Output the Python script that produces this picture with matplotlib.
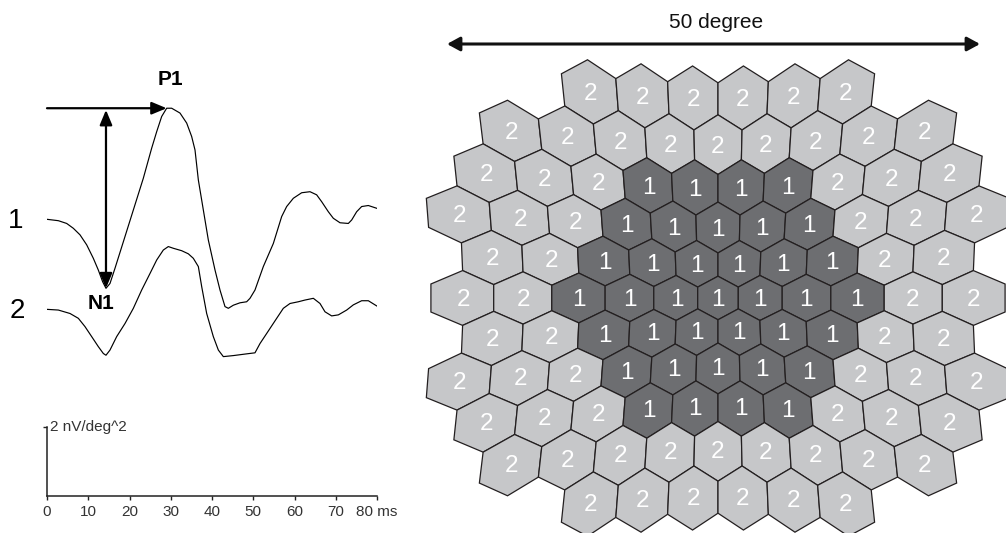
import numpy as np
import matplotlib
matplotlib.use("Agg")
import matplotlib.pyplot as plt
from matplotlib.patches import Polygon

plt.rcParams['font.family'] = ['Liberation Sans', 'DejaVu Sans']

# ---------------- data: mfERG traces (time in ms, amplitude in nV/deg^2 rel. to start) ----
t1 = [0, 2.75, 4.77, 6.38, 8.0, 9.62, 11.23, 12.44, 13.49, 14.3, 15.27, 16.48, 18.51,
      20.93, 23.35, 25.37, 26.59, 27.8, 29.01, 30.22, 32.24, 33.86, 35.07, 35.88, 36.69,
      37.9, 39.11, 40.73, 41.94, 43.15, 43.96, 45.17, 46.79, 48.4, 49.21, 50.42, 52.44,
      54.87, 56.89, 58.1, 59.72, 61.74, 63.76, 65.37, 66.59, 68.2, 69.41, 71.03, 73.05,
      73.86, 75.07, 76.28, 77.9, 79.92]
a1 = [0, -0.04, -0.12, -0.26, -0.45, -0.74, -1.13, -1.47, -1.81, -2.00, -1.86, -1.42, -0.65,
      0.27, 1.19, 2.06, 2.54, 2.98, 3.22, 3.22, 3.08, 2.79, 2.40, 2.01, 1.14,
      0.27, -0.60, -1.47, -2.05, -2.53, -2.58, -2.49, -2.42, -2.39, -2.29, -2.05, -1.37,
      -0.70, 0.08, 0.37, 0.61, 0.77, 0.80, 0.71, 0.51, 0.22, 0.03, -0.10, -0.12,
      -0.02, 0.22, 0.37, 0.40, 0.32]
t2 = [0, 2.75, 5.58, 7.6, 9.21, 10.83, 12.44, 13.66, 14.3, 15.27, 16.89, 18.91, 20.93,
      22.95, 24.97, 26.59, 28.2, 29.41, 30.63, 32.65, 34.26, 35.47, 36.69, 37.5, 38.71,
      40.32, 41.54, 42.75, 45.17, 48.4, 50.42, 51.64, 53.25, 55.68, 57.29, 58.91, 60.93,
      62.55, 64.57, 66.18, 67.39, 69.01, 70.63, 72.65, 74.26, 76.28, 77.9, 79.92]
a2 = [0, -0.02, -0.12, -0.26, -0.50, -0.79, -1.08, -1.28, -1.33, -1.18, -0.79, -0.41, 0.03,
      0.56, 1.04, 1.43, 1.72, 1.82, 1.77, 1.70, 1.61, 1.48, 1.24, 0.66, -0.12,
      -0.79, -1.18, -1.37, -1.34, -1.29, -1.26, -0.99, -0.70, -0.26, 0.03, 0.17, 0.22,
      0.27, 0.32, 0.17, -0.07, -0.19, -0.16, -0.02, 0.13, 0.25, 0.25, 0.10]
trace_names = ["1", "2"]
time_ticks = [0, 10, 20, 30, 40, 50, 60, 70, 80]
time_tick_labels = ["0", "10", "20", "30", "40", "50", "60", "70", "80 ms"]
scale_bar = 2  # nV/deg^2
scale_label = "2 nV/deg^2"

# ---------------- data: hexagon stimulus array ----------------
full_rings = 5                 # rings 0..5 complete
extra_ring = 6                 # partial outer ring
extra_rows = [2, 3, 4]         # |row| of the partial-ring cells
region_of_ring = [1, 1, 1, 1, 2, 2, 2]
array_title = "50 degree"

# ---------------- figure ----------------
W, H = 1006, 533
fig = plt.figure(figsize=(W / 100, H / 100), dpi=100)

# ---- left panel ----
px_per_unit = 34.5
axL = fig.add_axes([47 / W, 37 / H, 330 / W, 436 / H])
axL.set_xlim(0, 80)
axL.set_ylim(0, 436 / px_per_unit)
off1, off2 = 8.02, 5.41
y1 = np.array(a1) + off1
y2 = np.array(a2) + off2
axL.plot(t1, y1, color='black', lw=0.85)
axL.plot(t2, y2, color='black', lw=0.85)

for s in ['top', 'right']:
    axL.spines[s].set_visible(False)
axL.spines['left'].set_bounds(0, scale_bar)
axL.spines['bottom'].set_bounds(0, 80)
for s in ['left', 'bottom']:
    axL.spines[s].set_linewidth(1.1)
    axL.spines[s].set_color('#222222')
axL.set_xticks(time_ticks)
axL.set_xticklabels(time_tick_labels)
axL.set_yticks([scale_bar])
axL.set_yticklabels([])
axL.tick_params(axis='both', direction='out', length=3, width=1, color='#222222',
                labelsize=11, labelcolor='#333333', pad=3.5)
axL.text(0.7, scale_bar, scale_label, fontsize=11, color='#333333', va='center', ha='left')

# P1 / N1 from trace 1
i_p1 = int(np.argmax(y1))
i_n1 = int(np.argmin(np.where(np.array(t1) < 20, y1, np.inf)))
tp, vp = t1[i_p1], y1[i_p1]
tn, vn = t1[i_n1], y1[i_n1]
axL.annotate("", xy=(tp, vp), xytext=(0, vp),
             arrowprops=dict(arrowstyle='-|>,head_length=0.6,head_width=0.25',
                             mutation_scale=15, lw=1.6, color='black',
                             shrinkA=0, shrinkB=0), annotation_clip=False)
axL.annotate("", xy=(tn, vn), xytext=(tn, vp - 0.05),
             arrowprops=dict(arrowstyle='<|-|>,head_length=0.6,head_width=0.25',
                             mutation_scale=15, lw=1.6, color='black',
                             shrinkA=0, shrinkB=0), annotation_clip=False)
axL.text(tp + 1.0, vp + 0.82, "P1", fontsize=15, fontweight='bold', ha='center', va='center')
axL.text(tn - 1.2, vn - 0.45, "N1", fontsize=15, fontweight='bold', ha='center', va='center')
axL.text(-7.6, off1 - 0.05, trace_names[0], fontsize=20, ha='center', va='center', clip_on=False)
axL.text(-7.2, off2 - 0.05, trace_names[1], fontsize=20, ha='center', va='center', clip_on=False)

# ---- right panel: hexagon array ----
axR = fig.add_axes([420 / W, 0, 586 / W, 1])
axR.set_xlim(420, 1006)
axR.set_ylim(533, 0)
axR.axis('off')

cx, cy = 718.0, 298.0
wa, wb, sy = 39.2, 2.36, 0.93


def warp(x, y):
    d = np.hypot(x, y)
    if d == 0:
        return cx, cy
    f = wa * d + wb * d * d
    return cx + x / d * f, cy - y / d * f * sy


cells = []
for r in range(-extra_ring, extra_ring + 1):
    for q in range(-extra_ring, extra_ring + 1):
        ring = max(abs(q), abs(r), abs(q + r))
        if ring <= full_rings or (ring == extra_ring and abs(r) in extra_rows):
            cells.append((q, r, ring))

s_hex = 1 / np.sqrt(3)
angles = np.deg2rad(30 + 60 * np.arange(6))
dark, light = '#6d6e71', '#c6c7c9'
for q, r, ring in cells:
    x0 = q + r / 2
    y0 = -np.sqrt(3) / 2 * r
    verts = [warp(x0 + s_hex * np.cos(a), y0 + s_hex * np.sin(a)) for a in angles]
    region = region_of_ring[ring]
    axR.add_patch(Polygon(verts, closed=True, facecolor=dark if region == 1 else light,
                          edgecolor='#231f20', lw=0.9, joinstyle='miter'))
    lx, ly = warp(x0, y0)
    axR.text(lx, ly + 1.5, str(region), color='white', fontsize=17.5, ha='center', va='center')

axR.annotate("", xy=(447, 44), xytext=(980, 44),
             arrowprops=dict(arrowstyle='<|-|>,head_length=0.55,head_width=0.3',
                             mutation_scale=14, lw=2.2, color='#111111',
                             shrinkA=0, shrinkB=0))
axR.text(716, 22, array_title, fontsize=15, ha='center', va='center', color='#111111')

fig.savefig("out.png", dpi=100)
